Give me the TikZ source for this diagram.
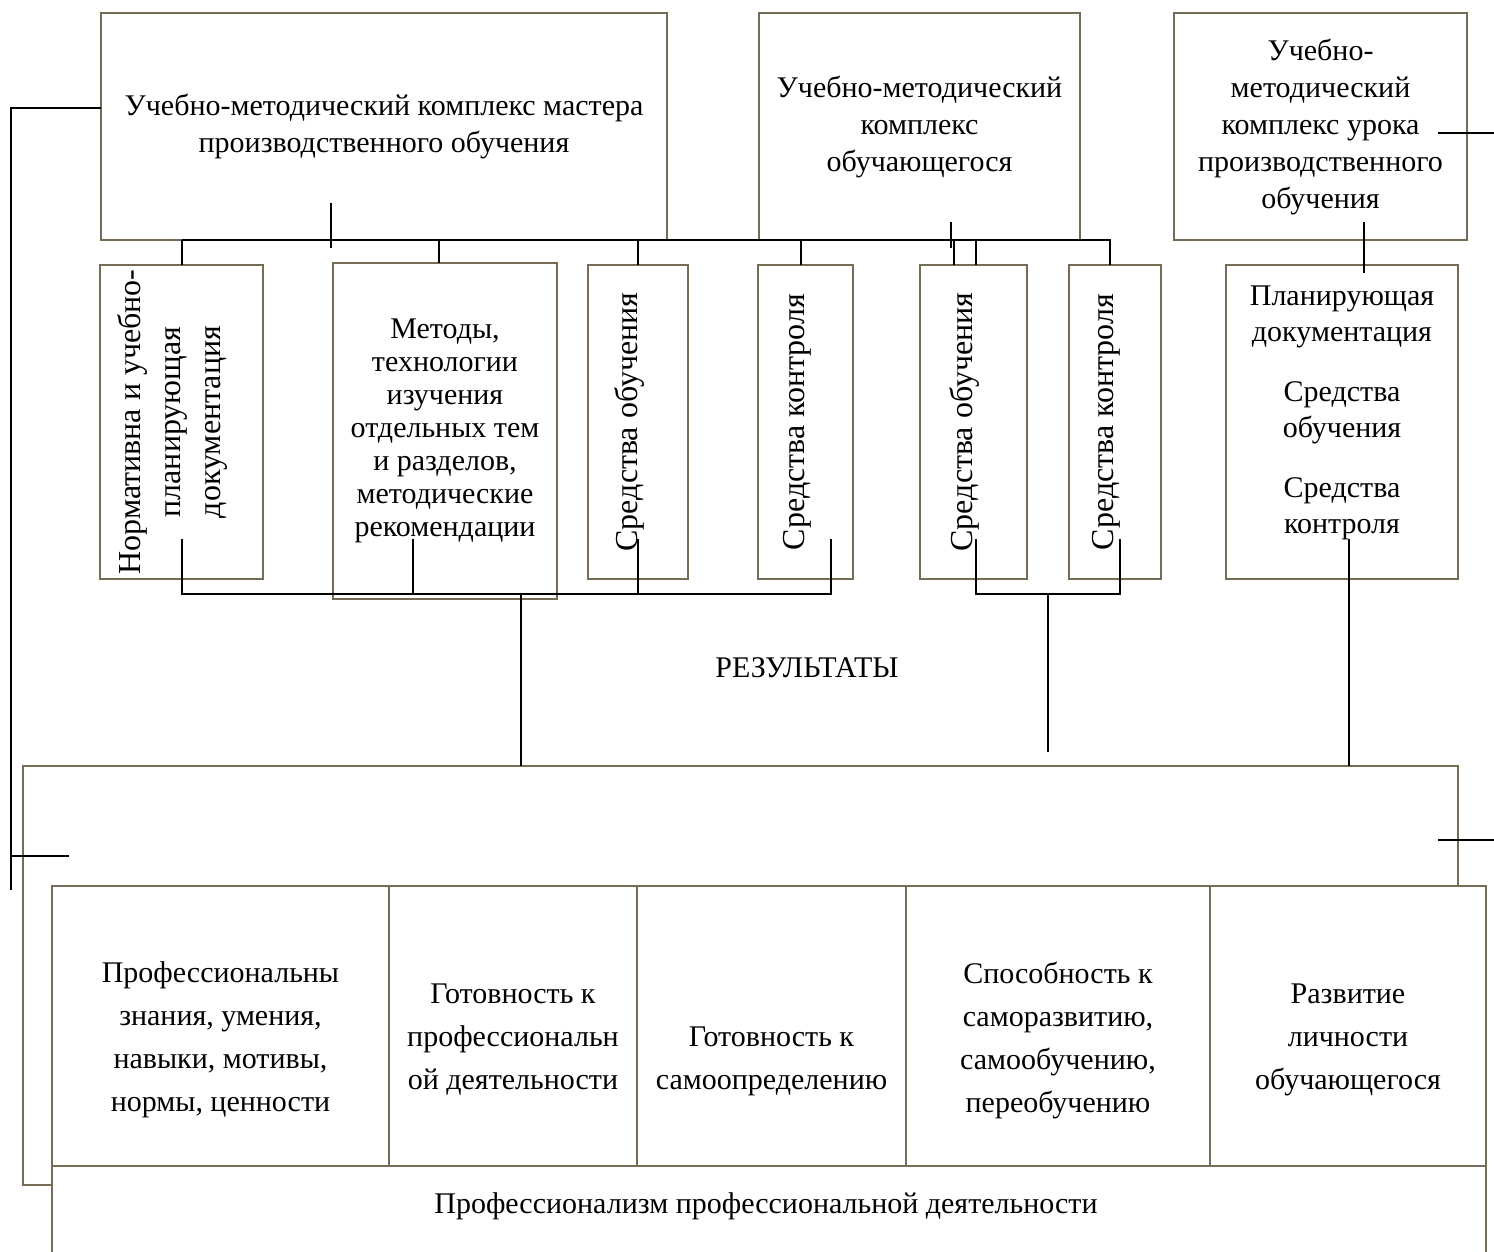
\documentclass[tikz,border=0pt]{standalone}
\usepackage{fontspec}
\setmainfont{Liberation Serif}
\definecolor{boxline}{RGB}{118,108,86}

\begin{document}
\begin{tikzpicture}[x=0.5pt, y=-0.5pt,
	box/.style={draw=boxline, line width=1.3pt, inner sep=0pt, outer sep=0pt, align=center, font=\fontsize{15}{18.5}\selectfont},
	vbox/.style={box, rotate=90, text depth=12pt, font=\fontsize{16}{20}\selectfont},
	cell/.style={align=center, inner sep=0pt, font=\fontsize{15}{21.5}\selectfont},
	link/.style={line width=1pt}]

	\useasboundingbox (0,0) rectangle (1494,1252);

	% Верхние комплексы
	\node[box, minimum width=283pt, minimum height=113.5pt] (master) at (384,126.5) {Учебно-методический комплекс мастера\\производственного обучения};
	\node[box, minimum width=160.5pt, minimum height=113.5pt] (student) at (919.5,126.5) {Учебно-методический\\комплекс\\обучающегося};
	\node[box, minimum width=146.5pt, minimum height=113.5pt] (lesson) at (1320.5,126.5) {Учебно-\\методический\\комплекс урока\\производственного\\обучения};

	% Средний ряд
	\node[vbox, minimum width=157pt, minimum height=81.5pt] (norm) at (181.5,422) {Нормативна и учебно-\\планирующая\\документация};
	\node[box, minimum width=112pt, minimum height=168pt, font=\fontsize{15}{16.5}\selectfont] (methods) at (445,431) {Методы,\\технологии\\изучения\\отдельных тем\\и разделов,\\методические\\рекомендации};
	\node[vbox, minimum width=157pt, minimum height=50pt] (means1) at (638,422) {Средства обучения};
	\node[vbox, minimum width=157pt, minimum height=47.5pt] (control1) at (805.5,422) {Средства контроля};
	\node[vbox, minimum width=157pt, minimum height=53.5pt] (means2) at (973.5,422) {Средства обучения};
	\node[vbox, minimum width=157pt, minimum height=46pt] (control2) at (1115,422) {Средства контроля};
	\node[box, minimum width=116pt, minimum height=157pt] (plan) at (1342,422) {};
	\node[align=center, inner sep=0pt, font=\fontsize{15}{18}\selectfont] (plantext) at (1342,413) {Планирующая\\документация\\[12pt]Средства\\обучения\\[12pt]Средства\\контроля};

	\node[font=\fontsize{15}{18}\selectfont] (result) at (807,668) {РЕЗУЛЬТАТЫ};

	% Итоговый блок
	\node[box, minimum width=717.5pt, minimum height=209.5pt] (back) at (740.5,975.5) {};
	\draw[draw=boxline, line width=1.3pt, fill=white] (52,886) rectangle (1486,1270);
	\draw[draw=boxline, line width=1.3pt] (52,1166) -- (1486,1166);
	\foreach \x in {389,637,906,1210}
		\draw[draw=boxline, line width=1.3pt] (\x,886) -- (\x,1166);

	\node[cell] (skills) at (220.5,1040) {Профессиональны\\знания, умения,\\навыки, мотивы,\\нормы, ценности};
	\node[cell] (ready) at (513,1040) {Готовность к\\профессиональн\\ой деятельности};
	\node[cell] (self) at (771.5,1061) {Готовность к\\самоопределению};
	\node[cell] (ability) at (1058,1040) {Способность к\\саморазвитию,\\самообучению,\\переобучению};
	\node[cell] (person) at (1348,1040) {Развитие\\личности\\обучающегося};
	\node[cell] (prof) at (766,1206) {Профессионализм профессиональной деятельности};

	% Связи сверху
	\coordinate (rowtop) at (0,265);
	\coordinate (tickup) at (0,539);
	\coordinate (lowbus) at (0,594);
	\coordinate (lefttop) at (11,108);
	\coordinate (leftbot) at (11,890);
	\coordinate (resdrop) at (521,594);
	\coordinate (middrop) at (1048,594);

	\draw[link] (master.west |- lefttop) -- (lefttop) -- (leftbot);
	\draw[link] (11,856) -- (69,856);
	\draw[link] (1438,133) -- (1494,133);
	\draw[link] (1438,840) -- (1494,840);

	\draw[link] (331,203) -- (331,248);
	\draw[link] (951,222) -- (951,248);
	\draw[link] (1364,222) -- (1364,273);

	\draw[link] (norm |- master.south) -- ([xshift=-2.5pt]control2 |- master.south) -- ([xshift=-2.5pt]control2 |- rowtop);
	\draw[link] (norm |- master.south) -- (norm |- rowtop);
	\draw[link] ([xshift=-3pt]methods |- master.south) -- ([xshift=-3pt]methods.north);
	\draw[link] (means1 |- master.south) -- (means1 |- rowtop);
	\draw[link] ([xshift=-2.5pt]control1 |- master.south) -- ([xshift=-2.5pt]control1 |- rowtop);
	\draw[link] ([xshift=-9.75pt]means2 |- master.south) -- ([xshift=-9.75pt]means2 |- rowtop);
	\draw[link] ([xshift=1.25pt]means2 |- master.south) -- ([xshift=1.25pt]means2 |- rowtop);

	% Связи снизу
	\draw[link] (norm |- tickup) -- (norm |- lowbus) -- ([xshift=12.75pt]control1 |- lowbus) -- ([xshift=12.75pt]control1 |- tickup);
	\draw[link] ([xshift=-16pt]methods |- tickup) -- ([xshift=-16pt]methods |- lowbus);
	\draw[link] (means1 |- tickup) -- (means1 |- lowbus);
	\draw[link] (resdrop) -- (resdrop |- back.north);
	\draw[link] ([xshift=1.25pt]means2 |- tickup) -- ([xshift=1.25pt]means2 |- lowbus) -- ([xshift=2.5pt]control2 |- lowbus) -- ([xshift=2.5pt]control2 |- tickup);
	\draw[link] (middrop) -- ++(0,158);
	\draw[link] ([xshift=3.5pt]plan |- tickup) -- ([xshift=3.5pt]plan |- back.north);

\end{tikzpicture}
\end{document}
